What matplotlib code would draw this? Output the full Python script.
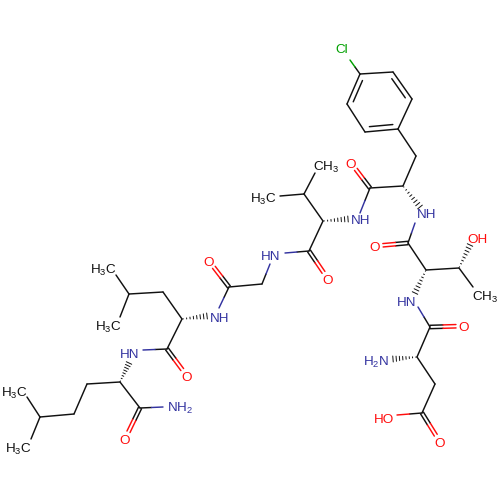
import numpy as np
import matplotlib
matplotlib.use("Agg")
import matplotlib.pyplot as plt

plt.rcParams['font.family'] = 'Liberation Sans'
plt.rcParams['mathtext.fontset'] = 'custom'
plt.rcParams['mathtext.rm'] = 'Liberation Sans'
plt.rcParams['mathtext.default'] = 'rm'

BLACK, BLUE, RED, GREEN = '#111111', '#3333a0', '#ff0d0d', '#00a000'

# Skeleton atoms, pixel position
atoms = {
    'c1': (40, 417), 'm1': (27, 397), 'm2': (31, 439), 'c2': (74, 414), 'c3': (87, 384),
    'a1': (120, 382), 'k1': (140, 408), 'n1e': (163, 407), 'o1': (125, 439),
    'n2e': (143, 350), 'k2': (167, 349), 'o2': (187, 376), 'a2': (182, 319),
    'c4': (163, 292), 'c5': (129, 294), 'm3': (116, 275), 'm4': (120, 317),
    'n3e': (219, 308), 'k3': (229, 287), 'o3': (209, 261), 'c6': (262, 284),
    'n4e': (270, 264), 'n4f': (285, 253), 'k4': (309, 251), 'o4': (328, 279),
    'a3': (323, 221), 'c7': (304, 194), 'm5': (315, 173), 'm6': (280, 196),
    'n5e': (360, 213), 'k5': (370, 188), 'o5': (351, 163), 'a4': (403, 186),
    'c8': (416, 156), 'r1': (398, 129), 'r2': (365, 132), 'r3': (347, 104),
    'r4': (360, 74), 'r5': (393, 72), 'r6': (412, 99), 'cle': (350, 60),
    'n6e': (415, 223), 'k6': (408, 243), 'o6': (375, 246), 'a5': (426, 270),
    'c9': (459, 268), 'm7': (473, 287), 'n7e': (418, 307), 'k7': (430, 327),
    'o7': (464, 326), 'a6': (417, 357), 'c10': (435, 384), 'k8': (422, 413),
    'ohe': (397, 415), 'o8': (440, 442),
}

# Plain single bonds
single_bonds = [
    ('c1', 'm1'), ('c1', 'm2'), ('c1', 'c2'), ('c2', 'c3'), ('c3', 'a1'), ('a1', 'k1'),
    ('k2', 'a2'), ('a2', 'c4'), ('c4', 'c5'), ('c5', 'm3'), ('c5', 'm4'), ('k3', 'c6'),
    ('k4', 'a3'), ('a3', 'c7'), ('c7', 'm5'), ('c7', 'm6'), ('k5', 'a4'), ('a4', 'c8'),
    ('c8', 'r1'), ('r1', 'r2'), ('r2', 'r3'), ('r3', 'r4'), ('r4', 'r5'), ('r5', 'r6'),
    ('r6', 'r1'), ('k6', 'a5'), ('a5', 'c9'), ('c9', 'm7'), ('k7', 'a6'), ('a6', 'c10'),
    ('c10', 'k8'),
]

# Bonds that change colour half way towards a heteroatom
hetero_bonds = [
    ('k1', 'n1e', BLUE), ('k2', 'n2e', BLUE), ('k3', 'n3e', BLUE), ('c6', 'n4e', BLUE),
    ('k4', 'n4f', BLUE), ('k5', 'n5e', BLUE), ('k6', 'n6e', BLUE), ('k7', 'n7e', BLUE),
    ('k8', 'ohe', RED), ('r4', 'cle', GREEN),
]

# Carbonyl double bonds
carbonyls = [('k1', 'o1'), ('k2', 'o2'), ('k3', 'o3'), ('k4', 'o4'),
             ('k5', 'o5'), ('k6', 'o6'), ('k7', 'o7'), ('k8', 'o8')]

# Inner lines of the aromatic ring
ring_inner = [('r1', 'r2'), ('r3', 'r4'), ('r5', 'r6')]

# Hashed stereo bonds: narrow end, wide end
hashed = [((120, 382), (129, 363)), ((182, 319), (207, 316)), ((323, 221), (348, 219)),
          ((403, 186), (420, 207)), ((426, 270), (415, 293)), ((459, 268), (470, 245)),
          ((417, 357), (393, 359))]

# Atom labels: centre x, centre y, text, colour
labels = [
    (14, 392, r'H$_3$C', BLACK), (18, 448, r'H$_3$C', BLACK), (103, 269, r'H$_3$C', BLACK),
    (108, 326, r'H$_3$C', BLACK), (263, 198, r'H$_3$C', BLACK), (326, 166, r'CH$_3$', BLACK),
    (485, 296, r'CH$_3$', BLACK), (180, 407, r'NH$_2$', BLUE), (130, 353, 'HN', BLUE),
    (220, 317, 'NH', BLUE), (271, 255, 'HN', BLUE), (361, 219, 'NH', BLUE),
    (427, 213, 'NH', BLUE), (407, 301, 'HN', BLUE), (376, 361, r'H$_2$N', BLUE),
    (125, 439, 'O', RED), (187, 376, 'O', RED), (209, 261, 'O', RED), (328, 279, 'O', RED),
    (351, 163, 'O', RED), (375, 246, 'O', RED), (464, 326, 'O', RED), (440, 442, 'O', RED),
    (477, 238, 'OH', RED), (384, 418, 'HO', RED), (342, 48, 'Cl', GREEN),
]

fig = plt.figure(figsize=(5, 5), dpi=100)
ax = fig.add_axes([0, 0, 1, 1])
ax.set_xlim(0, 500)
ax.set_ylim(500, 0)
ax.axis('off')

LW = 1.05


def seg(p, q, color=BLACK, lw=LW):
    ax.plot([p[0], q[0]], [p[1], q[1]], color=color, lw=lw,
            solid_capstyle='round', zorder=2)


def two_colour(p, q, color):
    p, q = np.array(p, float), np.array(q, float)
    m = (p + q) / 2
    seg(p, m)
    seg(m, q, color)


for a, b in single_bonds:
    seg(atoms[a], atoms[b])

for a, b, col in hetero_bonds:
    two_colour(atoms[a], atoms[b], col)

for a, b in carbonyls:
    p, q = np.array(atoms[a], float), np.array(atoms[b], float)
    d = q - p
    u = d / np.hypot(*d)
    n = np.array([-u[1], u[0]])
    end = q - u * 8
    for s in (-1.7, 1.7):
        two_colour(p + n * s, end + n * s, RED)

centre = np.mean([atoms[k] for k in ('r1', 'r2', 'r3', 'r4', 'r5', 'r6')], axis=0)
for a, b in ring_inner:
    p, q = np.array(atoms[a], float), np.array(atoms[b], float)
    seg(p + (centre - p) * 0.17 + (q - p) * 0.06, q + (centre - q) * 0.17 + (p - q) * 0.06)

for narrow, wide in hashed:
    p, q = np.array(narrow, float), np.array(wide, float)
    d = q - p
    u = d / np.hypot(*d)
    n = np.array([-u[1], u[0]])
    for t in np.linspace(0.05, 1, 8):
        c = p + d * t
        h = 3.0 * t
        seg(c - n * h, c + n * h, BLACK, 0.7)

for x, y, s, col in labels:
    ax.text(x, y + 4.8, s, color=col, fontsize=9.7, ha='center', va='baseline', zorder=3)

fig.savefig('out.png', dpi=100)
